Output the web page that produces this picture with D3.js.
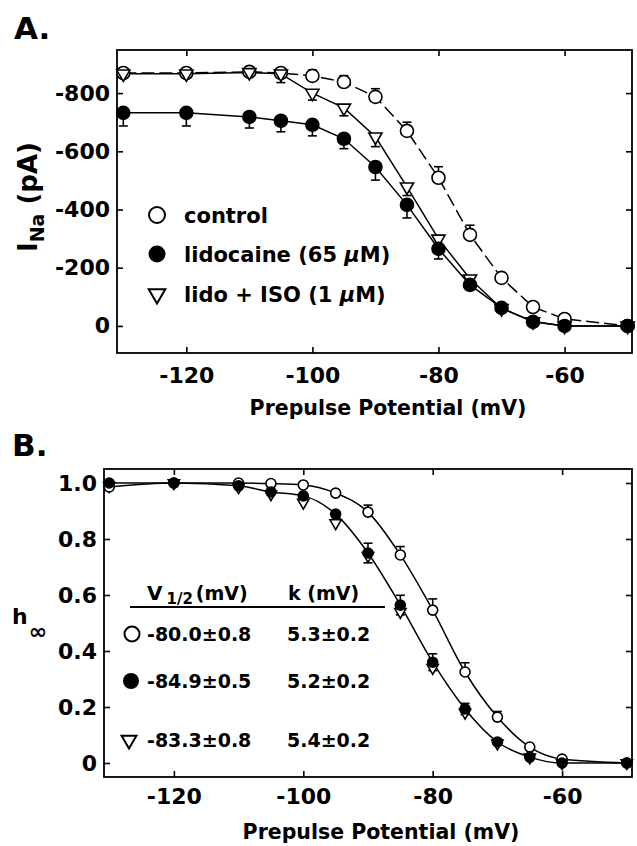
<!DOCTYPE html>
<html>
<head>
<meta charset="utf-8">
<script src="https://cdn.jsdelivr.net/npm/d3@7"></script>
<style>
  body { margin: 0; background: #fff; }
  text { font-family: 'DejaVu Sans', sans-serif; font-weight: bold; fill: #000; }
</style>
</head>
<body>
<div id="chart"></div>
<script>
// prepulse potentials (mV)
const voltages = [-130, -120, -110, -105, -100, -95, -90, -85, -80, -75, -70, -65, -60, -50];

// panel A: peak I_Na (pA)
const ctrlINa = [-869, -869, -873, -869, -859, -838, -787, -670, -509, -313, -165, -65, -24, 0];
const ctrlErrA = [0, 0, 0, 0, 20, 22, 28, 30, 38, 33, 15, 5, 4, 0];
const lidoINa = [-732, -732, -718, -705, -691, -643, -546, -416, -265, -141, -62, -14, 0, 0];
const lidoErrA = [45, 45, 38, 38, 38, 34, 45, 45, 35, 18, 8, 4, 0, 0];
const isoINa = [-866, -866, -871, -866, -800, -749, -650, -478, -299, -162, -60, -15, 0, 0];
const isoErrA = [0, 0, 0, 30, 24, 27, 34, 30, 20, 10, 0, 0, 0, 0];

// panel B: normalised availability h-infinity
const ctrlH = [0.986, 1.0, 1.0, 0.998, 0.993, 0.964, 0.896, 0.743, 0.546, 0.325, 0.164, 0.057, 0.014, 0.0];
const ctrlErrB = [0, 0, 0, 0, 0, 0, 0.025, 0.03, 0.04, 0.033, 0.02, 0, 0, 0];
const lidoH = [1.0, 1.0, 0.99, 0.968, 0.954, 0.889, 0.75, 0.564, 0.36, 0.193, 0.075, 0.021, 0.0, 0.0];
const lidoErrB = [0, 0, 0, 0, 0, 0.01, 0.035, 0.035, 0.03, 0.02, 0.01, 0, 0, 0];
const isoH = [0.99, 1.0, 0.985, 0.96, 0.93, 0.857, 0.74, 0.54, 0.34, 0.18, 0.07, 0.02, 0.0, 0.0];

const legendLabels = ['control', 'lidocaine (65 ', 'lido + ISO (1 '];
const vHalfText = ['-80.0\u00b10.8', '-84.9\u00b10.5', '-83.3\u00b10.8'];
const kText = ['5.3\u00b10.2', '5.2\u00b10.2', '5.4\u00b10.2'];

const xTicks = [-120, -100, -80, -60];
const yTicksA = [0, -200, -400, -600, -800];
const yTicksB = [0, 0.2, 0.4, 0.6, 0.8, 1.0];

const width = 637, height = 846;

const svg = d3.select('#chart')
  .append('svg')
  .attr('width', width)
  .attr('height', height);

svg.append('rect').attr('width', width).attr('height', height).attr('fill', '#fff');

// ---------- helpers ----------
const triPath = (size) => d3.symbol().type(d3.symbolTriangle).size(size)();

const frame = (g, x, y, fs, padX, fmt, yTicks) => {
  const [x0, x1] = x.range();
  const [y1, y0] = y.range();
  g.append('rect')
    .attr('x', x0).attr('y', y0)
    .attr('width', x1 - x0).attr('height', y1 - y0)
    .attr('fill', 'none').attr('stroke', '#000').attr('stroke-width', 1.8);

  const bottom = g.append('g').attr('transform', `translate(0, ${y1})`)
    .call(d3.axisBottom(x).tickValues(xTicks).tickSize(-6).tickPadding(padX).tickFormat(d => d));
  const top = g.append('g').attr('transform', `translate(0, ${y0})`)
    .call(d3.axisTop(x).tickValues(xTicks).tickSize(-6).tickFormat(''));
  const left = g.append('g').attr('transform', `translate(${x0}, 0)`)
    .call(d3.axisLeft(y).tickValues(yTicks).tickSize(-6).tickPadding(7).tickFormat(fmt));
  const right = g.append('g').attr('transform', `translate(${x1}, 0)`)
    .call(d3.axisRight(y).tickValues(yTicks).tickSize(-6).tickFormat(''));

  [bottom, top, left, right].forEach(a => {
    a.select('.domain').remove();
    a.selectAll('line').attr('stroke', '#000').attr('stroke-width', 1.6);
    a.selectAll('text').attr('font-size', fs).attr('font-family', 'DejaVu Sans').attr('font-weight', 'bold').attr('fill', '#000');
  });
};

const errBars = (g, x, y, vals, errs, dir, both) => {
  vals.forEach((v, i) => {
    const e = errs[i];
    if (!e) return;
    const cx = x(voltages[i]);
    const ya = both ? y(v - e) : y(v);
    const yb = y(v + dir * e);
    g.append('line').attr('x1', cx).attr('x2', cx).attr('y1', ya).attr('y2', yb)
      .attr('stroke', '#000').attr('stroke-width', 1.6);
    g.append('line').attr('x1', cx - 4.5).attr('x2', cx + 4.5).attr('y1', yb).attr('y2', yb)
      .attr('stroke', '#000').attr('stroke-width', 1.6);
    if (both) {
      g.append('line').attr('x1', cx - 4.5).attr('x2', cx + 4.5).attr('y1', ya).attr('y2', ya)
        .attr('stroke', '#000').attr('stroke-width', 1.6);
    }
  });
};

const circles = (g, x, y, vals, r, filled) => {
  g.selectAll(null).data(vals).enter().append('circle')
    .attr('cx', (d, i) => x(voltages[i]))
    .attr('cy', d => y(d))
    .attr('r', r)
    .attr('fill', filled ? '#000' : '#fff')
    .attr('stroke', '#000').attr('stroke-width', 1.6);
};

const triangles = (g, x, y, vals, size) => {
  g.selectAll(null).data(vals).enter().append('path')
    .attr('d', triPath(size))
    .attr('transform', (d, i) => `translate(${x(voltages[i])}, ${y(d)}) rotate(180)`)
    .attr('fill', '#fff')
    .attr('stroke', '#000').attr('stroke-width', 1.6);
};

// ---------- panel A ----------
const xA = d3.scaleLinear().domain([-131.0, -49.3]).range([117, 632]);
const yA = d3.scaleLinear().domain([93, -948]).range([353, 50]);
const gA = svg.append('g');

svg.append('text').attr('x', 14).attr('y', 39).attr('font-size', 31).text('A.');

frame(gA, xA, yA, 22, 14, d => d, yTicksA);

const lineA = (vals) => d3.line().x((d, i) => xA(voltages[i])).y(d => yA(d))(vals);

gA.append('path').attr('d', lineA(ctrlINa)).attr('fill', 'none')
  .attr('stroke', '#000').attr('stroke-width', 1.5).attr('stroke-dasharray', '13,5');
gA.append('path').attr('d', lineA(lidoINa)).attr('fill', 'none')
  .attr('stroke', '#000').attr('stroke-width', 1.5);
gA.append('path').attr('d', lineA(isoINa)).attr('fill', 'none')
  .attr('stroke', '#000').attr('stroke-width', 1.5);

errBars(gA, xA, yA, ctrlINa, ctrlErrA, -1, false);
errBars(gA, xA, yA, lidoINa, lidoErrA, 1, false);
errBars(gA, xA, yA, isoINa, isoErrA, 1, false);

circles(gA, xA, yA, ctrlINa, 6.5, false);
triangles(gA, xA, yA, isoINa, 75);
circles(gA, xA, yA, lidoINa, 6.5, true);

// legend A
const legY = [215, 254, 294];
gA.append('circle').attr('cx', 157).attr('cy', legY[0]).attr('r', 8)
  .attr('fill', '#fff').attr('stroke', '#000').attr('stroke-width', 2);
gA.append('circle').attr('cx', 157).attr('cy', legY[1]).attr('r', 8.5).attr('fill', '#000');
gA.append('path').attr('d', triPath(120))
  .attr('transform', `translate(157, ${legY[2]}) rotate(180)`)
  .attr('fill', '#fff').attr('stroke', '#000').attr('stroke-width', 2);
legendLabels.forEach((t, i) => {
  const txt = gA.append('text').attr('x', 184).attr('y', legY[i] + 8).attr('font-size', 21).text(t);
  if (i > 0) {
    txt.append('tspan').attr('font-style', 'italic').text('\u03bc');
    txt.append('tspan').text('M)');
  }
});

// axis titles A
const yLabA = svg.append('text')
  .attr('transform', 'translate(37, 197) rotate(-90)')
  .attr('text-anchor', 'middle').attr('font-size', 26);
yLabA.append('tspan').text('I');
yLabA.append('tspan').attr('font-size', 19).attr('dy', 7).text('Na');
yLabA.append('tspan').attr('dy', -7).text(' (pA)');

svg.append('text').attr('x', 388).attr('y', 415).attr('text-anchor', 'middle')
  .attr('font-size', 20.5).text('Prepulse Potential (mV)');

// ---------- panel B ----------
const xB = d3.scaleLinear().domain([-130.8, -49.2]).range([104, 632]);
const yB = d3.scaleLinear().domain([-0.05, 1.05]).range([777, 469]);
const gB = svg.append('g');

svg.append('text').attr('x', 12).attr('y', 456).attr('font-size', 31).text('B.');

frame(gB, xB, yB, 22, 11, d => d === 0 ? '0' : d3.format('.1f')(d), yTicksB);

const curveB = (vals) => d3.line().curve(d3.curveMonotoneX)
  .x((d, i) => xB(voltages[i])).y(d => yB(d))(vals);
gB.append('path').attr('d', curveB(ctrlH)).attr('fill', 'none').attr('stroke', '#000').attr('stroke-width', 1.5);
gB.append('path').attr('d', curveB(lidoH)).attr('fill', 'none').attr('stroke', '#000').attr('stroke-width', 1.5);

errBars(gB, xB, yB, ctrlH, ctrlErrB, 1, false);
errBars(gB, xB, yB, lidoH, lidoErrB, 1, true);

triangles(gB, xB, yB, isoH, 55);
circles(gB, xB, yB, ctrlH, 5, false);
circles(gB, xB, yB, lidoH, 5, true);

// fit table
const head = gB.append('text').attr('x', 147).attr('y', 600).attr('font-size', 20);
head.append('tspan').text('V');
head.append('tspan').attr('font-size', 15).attr('dx', 4).attr('dy', 4).text('1/2');
head.append('tspan').attr('font-size', 19).attr('dx', 3).attr('dy', -4).text('(mV)');
gB.append('text').attr('x', 288).attr('y', 600).attr('font-size', 19).text('k (mV)');
gB.append('line').attr('x1', 130).attr('x2', 385).attr('y1', 607).attr('y2', 607)
  .attr('stroke', '#000').attr('stroke-width', 2);

const rowY = [634, 681, 740];
gB.append('circle').attr('cx', 132).attr('cy', rowY[0]).attr('r', 7.5)
  .attr('fill', '#fff').attr('stroke', '#000').attr('stroke-width', 2);
gB.append('circle').attr('cx', 131).attr('cy', rowY[1]).attr('r', 8).attr('fill', '#000');
gB.append('path').attr('d', triPath(95))
  .attr('transform', `translate(129, ${rowY[2]}) rotate(180)`)
  .attr('fill', '#fff').attr('stroke', '#000').attr('stroke-width', 2);
rowY.forEach((ry, i) => {
  gB.append('text').attr('x', 147).attr('y', ry + 7).attr('font-size', 19).text(vHalfText[i]);
  gB.append('text').attr('x', 287).attr('y', ry + 7).attr('font-size', 19).text(kText[i]);
});

// axis titles B
const hLab = svg.append('text').attr('x', 12).attr('y', 624).attr('font-size', 22);
hLab.append('tspan').text('h');
hLab.append('tspan').attr('font-size', 22).attr('dy', 15).attr('dx', 1).text('\u221e');

svg.append('text').attr('x', 381).attr('y', 839).attr('text-anchor', 'middle')
  .attr('font-size', 20.5).text('Prepulse Potential (mV)');
</script>
</body>
</html>
